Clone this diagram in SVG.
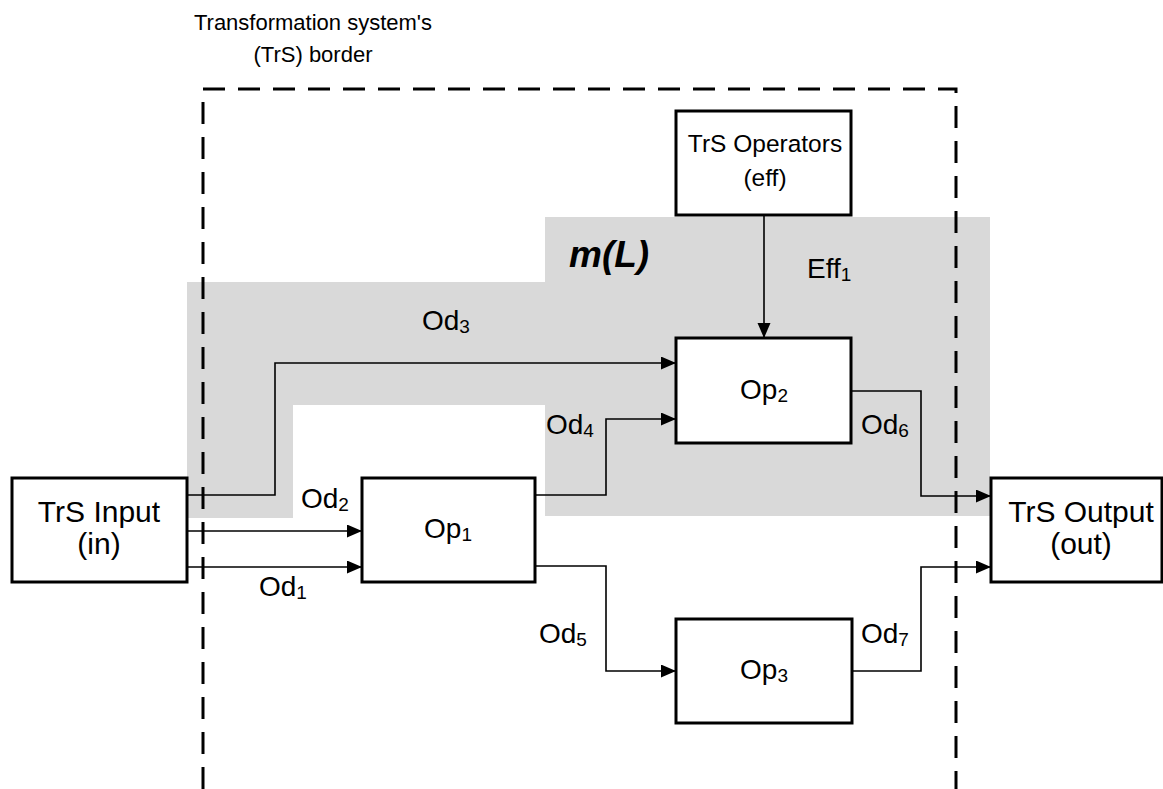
<svg xmlns="http://www.w3.org/2000/svg" width="1163" height="789" viewBox="0 0 1163 789">
<style>
text{font-family:"Liberation Sans",Arial,sans-serif;fill:#000}
.box{fill:#fff;stroke:#000;stroke-width:3}
.lbl{font-size:28px}
.boxt{font-size:30px;text-anchor:middle}
.opt{font-size:28px;text-anchor:middle}
.sub{font-size:19px}
.conn{fill:none;stroke:#000;stroke-width:1.6}
.border{fill:none;stroke:#000;stroke-width:3;stroke-dasharray:22 13}
</style>
<defs>
<marker id="arr" markerUnits="userSpaceOnUse" markerWidth="16" markerHeight="14" refX="15" refY="6.5" orient="auto">
<path d="M0,0 L15,6.5 L0,13 z" fill="#000"/>
</marker>
</defs>
<rect width="1163" height="789" fill="#fff"/>
<polygon id="region" points="545,217 990,217 990,516 545,516 545,405 293,405 293,518 187,518 187,282 545,282" fill="#d9d9d9"/>
<text x="313" y="30" font-size="22" text-anchor="middle">Transformation system's</text>
<text x="313" y="62" font-size="22" text-anchor="middle">(TrS) border</text>
<text x="569" y="267" font-size="37" font-weight="bold" font-style="italic">m(L)</text>
<path class="border" d="M203,789 V89 H956 V789"/>
<g id="connectors">
<path class="conn" d="M187,495 H275 V363 H676" marker-end="url(#arr)"/>
<path class="conn" d="M187,531 H362" marker-end="url(#arr)"/>
<path class="conn" d="M187,567 H362" marker-end="url(#arr)"/>
<path class="conn" d="M535,495 H606 V419 H676" marker-end="url(#arr)"/>
<path class="conn" d="M535,566 H606 V671 H676" marker-end="url(#arr)"/>
<path class="conn" d="M851,391 H921 V496 H991" marker-end="url(#arr)"/>
<path class="conn" d="M852,671 H921 V567 H991" marker-end="url(#arr)"/>
<path class="conn" d="M764,215 V338" marker-end="url(#arr)"/>
<text class="lbl" x="422" y="330">Od<tspan class="sub" dy="3">3</tspan></text>
<text class="lbl" x="301" y="508">Od<tspan class="sub" dy="3">2</tspan></text>
<text class="lbl" x="259" y="596">Od<tspan class="sub" dy="3">1</tspan></text>
<text class="lbl" x="546" y="434">Od<tspan class="sub" dy="3">4</tspan></text>
<text class="lbl" x="861" y="434">Od<tspan class="sub" dy="3">6</tspan></text>
<text class="lbl" x="539" y="643">Od<tspan class="sub" dy="3">5</tspan></text>
<text class="lbl" x="861" y="643">Od<tspan class="sub" dy="3">7</tspan></text>
<text class="lbl" x="807" y="278">Eff<tspan class="sub" dy="3">1</tspan></text>
</g>
<g id="operators">
<rect class="box" x="676" y="111" width="175" height="104"/>
<text x="765" y="152" font-size="24.5" text-anchor="middle">TrS Operators</text>
<text x="765" y="186" font-size="24.5" text-anchor="middle">(eff)</text>
</g>
<g id="input">
<rect class="box" x="12" y="478" width="175" height="104"/>
<text class="boxt" x="99" y="522">TrS Input</text>
<text class="boxt" x="99" y="554">(in)</text>
</g>
<g id="output">
<rect class="box" x="991" y="478" width="171" height="104"/>
<text class="boxt" x="1081" y="522">TrS Output</text>
<text class="boxt" x="1081" y="554">(out)</text>
</g>
<g id="op1">
<rect class="box" x="362" y="478" width="173" height="104"/>
<text class="opt" x="448" y="538">Op<tspan class="sub" dy="3">1</tspan></text>
</g>
<g id="op2">
<rect class="box" x="676" y="338" width="175" height="105"/>
<text class="opt" x="764" y="399">Op<tspan class="sub" dy="3">2</tspan></text>
</g>
<g id="op3">
<rect class="box" x="676" y="619" width="176" height="104"/>
<text class="opt" x="764" y="679">Op<tspan class="sub" dy="3">3</tspan></text>
</g>
</svg>
